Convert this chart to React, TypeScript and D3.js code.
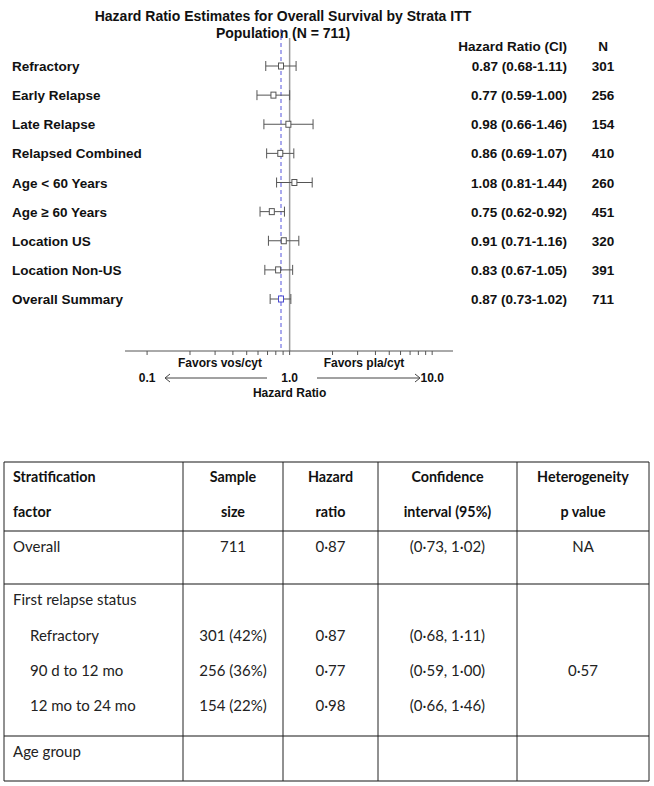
import React from 'react';
import * as d3 from 'd3';

// forest plot data
const strata = ['Refractory', 'Early Relapse', 'Late Relapse', 'Relapsed Combined', 'Age < 60 Years',
    'Age \u2265 60 Years', 'Location US', 'Location Non-US', 'Overall Summary'];
const hazard = [0.87, 0.77, 0.98, 0.86, 1.08, 0.75, 0.91, 0.83, 0.87];
const ciLow = [0.68, 0.59, 0.66, 0.69, 0.81, 0.62, 0.71, 0.67, 0.73];
const ciHigh = [1.11, 1.00, 1.46, 1.07, 1.44, 0.92, 1.16, 1.05, 1.02];
const counts = [301, 256, 154, 410, 260, 451, 320, 391, 711];
const axisLabels = [0.1, 1, 10];

// table data
const tableHead1 = ['Stratification', 'Sample', 'Hazard', 'Confidence', 'Heterogeneity'];
const tableHead2 = ['factor', 'size', 'ratio', 'interval (95%)', 'p value'];
const tFactor = ['Overall', 'First relapse status', 'Refractory', '90 d to 12 mo', '12 mo to 24 mo', 'Age group'];
const tSample = ['711', '', '301 (42%)', '256 (36%)', '154 (22%)', ''];
const tHazard = ['0·87', '', '0·87', '0·77', '0·98', ''];
const tCi = ['(0·73, 1·02)', '', '(0·68, 1·11)', '(0·59, 1·00)', '(0·66, 1·46)', ''];
const tP = ['NA', '', '', '0·57', '', ''];

const W = 654;
const H = 786;
const sans = 'Liberation Sans, Arimo, Arial, Helvetica, Roboto, sans-serif';
const cal = 'Lato, Open Sans, sans-serif';

export default function App() {
    const x = d3.scaleLog().domain([0.07, 14]).range([125, 453]);
    const y = d3.scaleLinear().domain([0, 8]).range([66, 299]);
    const axisY = 351;
    const ticks = d3.range(-1, 1).flatMap(e => d3.range(1, 10).map(k => k * Math.pow(10, e))).concat([10]);

    // table layout
    const colX = [4, 183, 283, 378, 517, 649];
    const colMid = colX.slice(1).map((c, i) => (c + colX[i]) / 2);
    const hLines = [462, 531, 584, 736, 781];
    const headY = [477, 512];
    const rowY = [547, 600, 636, 671, 706, 752];
    const indent = [0, 0, 1, 1, 1, 0];

    return (
        <svg width={W} height={H} style={{ position: 'absolute', left: 0, top: 0, background: '#fff' }}>
            <g style={{ fontFamily: sans }} fontWeight="bold" fill="#111">
                <text x={283} y={21} fontSize={14} textAnchor="middle">Hazard Ratio Estimates for Overall Survival by Strata ITT</text>
                <text x={283} y={38} fontSize={14} textAnchor="middle">Population (N = 711)</text>
                <text x={567} y={51} fontSize={13.5} textAnchor="end">Hazard Ratio (CI)</text>
                <text x={603} y={51} fontSize={13.5} textAnchor="middle">N</text>
            </g>

            {/* reference lines */}
            <line x1={x(1)} x2={x(1)} y1={38} y2={axisY} stroke="#9a9a9a" strokeWidth={1.5} />
            <line x1={x(hazard[8])} x2={x(hazard[8])} y1={29} y2={axisY} stroke="#5555dd" strokeWidth={1} strokeDasharray="4,3" />

            <g style={{ fontFamily: sans }} fontWeight="bold" fontSize={13.5} fill="#111">
                {strata.map((s, i) => {
                    const cy = y(i);
                    const col = i === 8 ? '#4a4ad0' : '#555';
                    return (
                        <g key={s}>
                            <text x={12} y={cy + 5}>{s}</text>
                            <line x1={x(ciLow[i])} x2={x(ciHigh[i])} y1={cy} y2={cy} stroke="#555" strokeWidth={1} />
                            <line x1={x(ciLow[i])} x2={x(ciLow[i])} y1={cy - 5} y2={cy + 5} stroke="#555" strokeWidth={1} />
                            <line x1={x(ciHigh[i])} x2={x(ciHigh[i])} y1={cy - 5} y2={cy + 5} stroke="#555" strokeWidth={1} />
                            <rect x={x(hazard[i]) - 2.5} y={cy - 3} width={5} height={6} fill="#fff" stroke={col} strokeWidth={1} />
                            <text x={567} y={cy + 5} textAnchor="end">
                                {`${hazard[i].toFixed(2)} (${ciLow[i].toFixed(2)}-${ciHigh[i].toFixed(2)})`}
                            </text>
                            <text x={603} y={cy + 5} textAnchor="middle">{counts[i]}</text>
                        </g>
                    );
                })}
            </g>

            {/* axis */}
            <g>
                <line x1={x.range()[0]} x2={x.range()[1]} y1={axisY} y2={axisY} stroke="#555" strokeWidth={1} />
                {ticks.map(t => (
                    <line key={t} x1={x(t)} x2={x(t)} y1={axisY} y2={axisY + 4} stroke="#555" strokeWidth={1} />
                ))}
            </g>
            <g style={{ fontFamily: sans }} fontWeight="bold" fontSize={12} fill="#111" textAnchor="middle">
                <text x={220} y={367}>Favors vos/cyt</text>
                <text x={364} y={367}>Favors pla/cyt</text>
                {axisLabels.map(v => (
                    <text key={v} x={x(v)} y={382}>{v.toFixed(1)}</text>
                ))}
                <text x={x(1)} y={397}>Hazard Ratio</text>
            </g>
            <g stroke="#444" strokeWidth={1} fill="none">
                <line x1={165} x2={267} y1={378} y2={378} />
                <polyline points="170,374 165,378 170,382" />
                <line x1={317} x2={420} y1={378} y2={378} />
                <polyline points="415,374 420,378 415,382" />
            </g>

            {/* table */}
            <g>
                {hLines.map((ly, i) => (
                    <line key={i} x1={colX[0]} x2={colX[5]} y1={ly} y2={ly} stroke="#8a8a8a" strokeWidth={2} />
                ))}
                {colX.map((cx, i) => (
                    <line key={i} x1={cx} x2={cx} y1={hLines[0]} y2={hLines[4]} stroke="#222" strokeWidth={1} />
                ))}
                <g style={{ fontFamily: cal }} fontWeight="bold" fontSize={14.3} fill="#111">
                    {tableHead1.map((h, i) => (
                        <text key={h} x={i === 0 ? 13 : colMid[i]} y={headY[0]} dy="0.35em" textAnchor={i === 0 ? 'start' : 'middle'}>{h}</text>
                    ))}
                    {tableHead2.map((h, i) => (
                        <text key={h} x={i === 0 ? 13 : colMid[i]} y={headY[1]} dy="0.35em" textAnchor={i === 0 ? 'start' : 'middle'}>{h}</text>
                    ))}
                </g>
                <g style={{ fontFamily: cal }} fontSize={15} fill="#222">
                    {tFactor.map((f, i) => (
                        <g key={f}>
                            <text x={13 + indent[i] * 17} y={rowY[i]} dy="0.35em">{f}</text>
                            <text x={colMid[1]} y={rowY[i]} dy="0.35em" textAnchor="middle">{tSample[i]}</text>
                            <text x={colMid[2]} y={rowY[i]} dy="0.35em" textAnchor="middle">{tHazard[i]}</text>
                            <text x={colMid[3]} y={rowY[i]} dy="0.35em" textAnchor="middle">{tCi[i]}</text>
                            <text x={colMid[4]} y={rowY[i]} dy="0.35em" textAnchor="middle">{tP[i]}</text>
                        </g>
                    ))}
                </g>
            </g>
        </svg>
    );
}
